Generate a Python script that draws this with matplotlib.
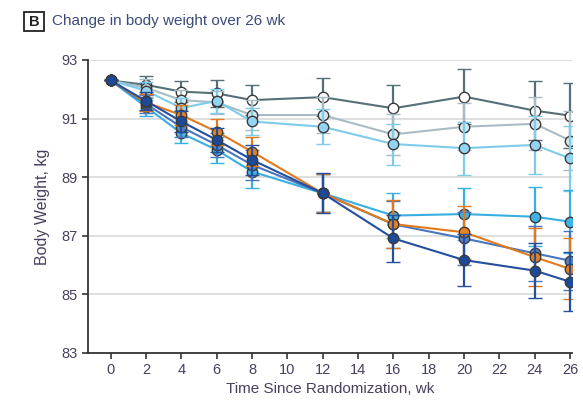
import matplotlib
matplotlib.use("Agg")
import matplotlib.pyplot as plt
from matplotlib.patches import Rectangle

weeks = [0, 2, 4, 6, 8, 12, 16, 20, 24, 26]

placebo = [92.3, 92.15, 91.92, 91.86, 91.63, 91.73, 91.35, 91.75, 91.27, 91.1]
placebo_err = [0, 0.3, 0.35, 0.45, 0.5, 0.65, 0.8, 0.93, 1.0, 1.1]

lightgray = [92.3, 92.05, 91.63, 91.55, 91.12, 91.12, 90.46, 90.72, 90.82, 90.25]
lightgray_err = [0, 0.3, 0.35, 0.4, 0.5, 0.6, 0.7, 0.8, 0.9, 1.0]

lightblue = [92.3, 91.95, 91.36, 91.6, 90.9, 90.72, 90.13, 89.99, 90.1, 89.64]
lightblue_err = [0, 0.3, 0.35, 0.4, 0.45, 0.6, 0.7, 0.9, 1.0, 1.1]

cyan = [92.3, 91.4, 90.5, 89.93, 89.19, 88.45, 87.69, 87.74, 87.65, 87.48]
cyan_err = [0, 0.3, 0.35, 0.45, 0.55, 0.65, 0.78, 0.88, 1.0, 1.08]

steel = [92.3, 91.5, 90.71, 90.1, 89.42, 88.45, 87.39, 86.91, 86.4, 86.15]
steel_err = [0, 0.3, 0.35, 0.4, 0.5, 0.65, 0.8, 0.9, 0.95, 1.0]

orange = [92.3, 91.55, 91.12, 90.55, 89.87, 88.45, 87.4, 87.12, 86.27, 85.87]
orange_err = [0, 0.3, 0.35, 0.45, 0.5, 0.65, 0.82, 0.9, 1.0, 1.04]

navy = [92.3, 91.6, 90.9, 90.27, 89.59, 88.45, 86.91, 86.17, 85.81, 85.43]
navy_err = [0, 0.3, 0.35, 0.4, 0.5, 0.68, 0.79, 0.9, 0.94, 1.0]

xticks = list(range(0, 27, 2))
yticks = [83, 85, 87, 89, 91, 93]

series = [
    (placebo, placebo_err, "#56707a", "#ffffff"),
    (lightgray, lightgray_err, "#a8bcc6", "#d4e6ee"),
    (lightblue, lightblue_err, "#7fcbea", "#92d5f2"),
    (cyan, cyan_err, "#39aee2", "#3fb3e6"),
    (steel, steel_err, "#4a76c0", "#5482c8"),
    (orange, orange_err, "#e07a1c", "#e8821e"),
    (navy, navy_err, "#234f9e", "#1c4a98"),
]

fig = plt.figure(figsize=(5.83, 4.07), dpi=100)
ax = fig.add_axes([0.151, 0.1327, 0.83, 0.72])

fam = ["Liberation Sans Narrow", "Liberation Sans", "DejaVu Sans"]
txtcol = "#4a3f5c"

for i, (vals, err, lc, fc) in enumerate(series):
    ax.errorbar(weeks, vals, yerr=err, color=lc, ecolor=lc, elinewidth=1.6,
                capsize=5, capthick=1.6, lw=1.5, marker="o", markersize=7.5,
                markerfacecolor=fc, markeredgecolor="#3a3a3a", markeredgewidth=1.0,
                zorder=3 + i)

ax.set_xlim(-1.28, 26.1)
ax.set_ylim(83, 93)
ax.set_xticks(xticks)
ax.set_yticks(yticks)
for y in yticks[1:]:
    ax.axhline(y, color="#d9d9d9", lw=1.2, zorder=1)

for s in ["top", "right"]:
    ax.spines[s].set_visible(False)
ax.spines["left"].set_color("#333333")
ax.spines["bottom"].set_color("#333333")
ax.spines["left"].set_linewidth(1.3)
ax.spines["bottom"].set_linewidth(1.3)
ax.tick_params(axis="both", colors="#333333", labelcolor=txtcol, labelsize=10.5,
               length=4, width=1.2)
for lab in ax.get_xticklabels() + ax.get_yticklabels():
    lab.set_family(fam)

ax.set_xlabel("Time Since Randomization, wk", fontsize=11, color=txtcol,
              family=fam, labelpad=3)
ax.set_ylabel("Body Weight, kg", fontsize=11.5, color=txtcol, family=fam,
              labelpad=8)

fig.patches.append(Rectangle((24 / 583, 1 - 31 / 407), 20 / 583, 19 / 407,
                             transform=fig.transFigure, fill=False,
                             edgecolor="#222222", lw=1.3))
fig.text(34 / 583, 1 - 21.5 / 407, "B", ha="center", va="center", fontsize=10.5,
         fontweight="bold", color="#222222", family=fam)
fig.text(52 / 583, 1 - 21.5 / 407, "Change in body weight over 26 wk", ha="left",
         va="center", fontsize=11, color="#3b4a7a", family=fam)

fig.savefig("out.png", dpi=100)
